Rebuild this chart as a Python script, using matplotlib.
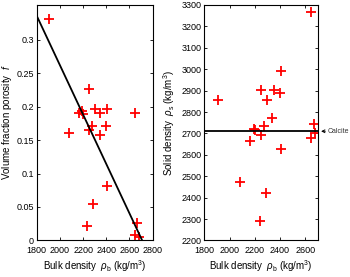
import matplotlib
matplotlib.use("Agg")
import matplotlib.pyplot as plt
from matplotlib.ticker import FuncFormatter, MultipleLocator, FixedLocator

plt.rcParams['font.family'] = ['Liberation Sans', 'DejaVu Sans']
plt.rcParams['mathtext.fontset'] = 'custom'
plt.rcParams['mathtext.rm'] = 'Liberation Sans'
plt.rcParams['mathtext.it'] = 'Liberation Sans:italic'

# Left panel: bulk density vs porosity
bulk_left = [1909, 2253, 2167, 2193, 2200, 2300, 2348, 2409, 2650, 2081,
             2248, 2274, 2400, 2343, 2406, 2288, 2236, 2667, 2647, 2679]
porosity = [0.331, 0.227, 0.191, 0.193, 0.189, 0.196, 0.191, 0.196, 0.191, 0.161,
            0.165, 0.171, 0.171, 0.157, 0.082, 0.054, 0.022, 0.026, 0.008, 0.005]

# Right panel: bulk density vs solid density
bulk_right = [2647, 2409, 2250, 2349, 2402, 1911, 2298, 2339, 2270, 2667,
              2192, 2202, 2676, 2252, 2163, 2647, 2409, 2081, 2287, 2242]
solid = [3269, 2993, 2901, 2901, 2891, 2855, 2857, 2773, 2734, 2744,
         2720, 2714, 2702, 2693, 2666, 2677, 2629, 2475, 2422, 2291]

porosity_ticks = [0, 0.05, 0.1, 0.15, 0.2, 0.25, 0.3]

calcite_density = 2710
line_x = [1800, 2710]

fig = plt.figure(figsize=(3.5, 2.77), dpi=100)
ax1 = fig.add_axes([0.105, 0.132, 0.331, 0.850])
ax2 = fig.add_axes([0.584, 0.132, 0.324, 0.850])

fs_tick = 6.5
fs_lab = 7

# left
ax1.plot(bulk_left, porosity, linestyle='none', marker='+', color='red',
         markersize=6.5, markeredgewidth=1.3)
ax1.plot(line_x, [1 - x / calcite_density for x in line_x], color='black', lw=1.3)
ax1.set_xlim(1800, 2800)
ax1.set_ylim(0, 0.352)
ax1.xaxis.set_major_locator(MultipleLocator(200))
ax1.yaxis.set_major_locator(FixedLocator(porosity_ticks))
ax1.yaxis.set_major_formatter(FuncFormatter(lambda v, p: '%g' % round(v, 3)))
ax1.set_xlabel(r'Bulk density  $\rho_{\rm b}$ (kg/m$^3$)', fontsize=fs_lab, labelpad=2)
ax1.set_ylabel(r'Volume fraction porosity  $f$', fontsize=fs_lab, labelpad=2)

# right
ax2.plot(bulk_right, solid, linestyle='none', marker='+', color='red',
         markersize=6.5, markeredgewidth=1.3)
ax2.axhline(calcite_density, color='black', lw=1.3)
ax2.set_xlim(1800, 2700)
ax2.set_ylim(2200, 3300)
ax2.xaxis.set_major_locator(MultipleLocator(200))
ax2.yaxis.set_major_locator(MultipleLocator(100))
ax2.set_xlabel(r'Bulk density  $\rho_{\rm b}$ (kg/m$^3$)', fontsize=fs_lab, labelpad=2)
ax2.set_ylabel(r'Solid density  $\rho_{\rm s}$ (kg/m$^3$)', fontsize=fs_lab, labelpad=3)
ax2.annotate('Calcite', xy=(2726, calcite_density), xytext=(7, 0),
             textcoords='offset pixels', fontsize=5, color='#333333',
             va='center', ha='left', annotation_clip=False,
             arrowprops=dict(arrowstyle='->', lw=0.7, color='black',
                             shrinkA=0, shrinkB=0))

for ax in (ax1, ax2):
    ax.tick_params(direction='in', length=2.5, width=0.6, labelsize=fs_tick,
                   top=True, right=True)
    ax.tick_params(axis='x', pad=4)
    ax.tick_params(axis='y', pad=2)
    for s in ax.spines.values():
        s.set_linewidth(0.8)

fig.savefig('out.png', dpi=100)
